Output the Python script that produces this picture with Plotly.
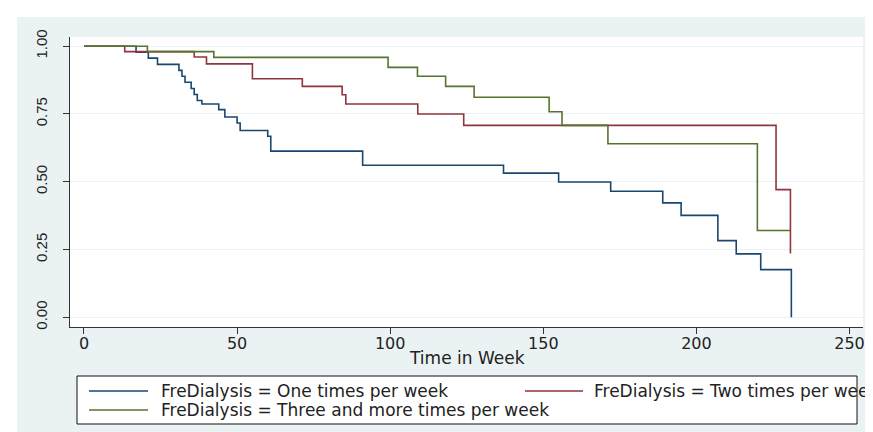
import plotly.graph_objects as go

# ---- data ----
blue_t = [0, 17, 21, 24, 31, 32, 33, 35, 36, 37, 38.5, 44, 46, 50, 51, 60, 61,
          91, 137, 155, 172, 189, 195, 207, 213, 221, 231]
blue_s = [1, .978, .956, .933, .911, .889, .867, .844, .822, .800, .787, .766, .739,
          .717, .689, .668, .613, .561, .532, .499, .465, .422, .376, .283, .234, .176, 0]

red_t = [0, 13.3, 36, 40, 55, 71.3, 84.3, 85.5, 109, 124, 226, 230.7]
red_s = [1, .98, .96, .935, .88, .852, .821, .787, .75, .708, .471, .235]

green_t = [0, 20.7, 42.4, 99.3, 108.9, 118.1, 127.4, 151.9, 156.1, 171.1, 219.9, 230.7]
green_s = [1, .98, .959, .922, .889, .852, .812, .758, .708, .64, .32, .32]

series_names = ["FreDialysis = One times per week",
                "FreDialysis = Two times per week",
                "FreDialysis = Three and more times per week"]
series_colors = ["#1a476f", "#90353b", "#55752f"]

x_ticks = [0, 50, 100, 150, 200, 250]
y_ticks = [0, 0.25, 0.5, 0.75, 1.0]
y_ticktext = ["0.00", "0.25", "0.50", "0.75", "1.00"]
x_title = "Time in Week"

# ---- layout geometry ----
W, H = 873, 432
L, R, T, B = 62, 18, 29, 113
PW = W - L - R
PH = H - T - B


def fx(p):
    return (p - L) / PW


def fy(p):
    return (H - B - p) / PH


fig = go.Figure()
for t, s, name, col in zip([blue_t, red_t, green_t], [blue_s, red_s, green_s],
                           series_names, series_colors):
    fig.add_trace(go.Scatter(x=t, y=s, mode="lines", name=name,
                             line=dict(color=col, width=1.6, shape="hv"),
                             showlegend=False))

BG = "#eaf2f3"
shapes = [
    dict(type="rect", xref="paper", yref="paper", x0=fx(0), x1=fx(W), y0=fy(0), y1=fy(9),
         fillcolor="white", line=dict(width=0), layer="below"),
    dict(type="rect", xref="paper", yref="paper", x0=fx(0), x1=fx(9), y0=fy(0), y1=fy(H),
         fillcolor="white", line=dict(width=0), layer="below"),
    dict(type="rect", xref="paper", yref="paper", x0=fx(69), x1=fx(849), y0=fy(416), y1=fy(368),
         fillcolor="white", line=dict(color="#111111", width=1)),
]
legend_items = [(81, 140, 151, 383), (517, 575, 584, 383), (81, 140, 151, 402)]
annotations = []
for (lx0, lx1, tx, ly), name, col in zip(legend_items, series_names, series_colors):
    shapes.append(dict(type="line", xref="paper", yref="paper", x0=fx(lx0), x1=fx(lx1),
                       y0=fy(ly), y1=fy(ly), line=dict(color=col, width=1.6)))
    annotations.append(dict(x=fx(tx), y=fy(ly), xref="paper", yref="paper", text=name,
                            showarrow=False, xanchor="left", yanchor="middle",
                            font=dict(family="DejaVu Sans", size=17, color="#222222")))
annotations.append(dict(x=fx(459), y=fy(350), xref="paper", yref="paper", text=x_title,
                        showarrow=False, xanchor="center", yanchor="middle",
                        font=dict(family="DejaVu Sans", size=17, color="#222222")))

fig.update_layout(
    width=W, height=H,
    margin=dict(l=L, r=R, t=T, b=B, pad=0),
    paper_bgcolor=BG, plot_bgcolor="white",
    shapes=shapes, annotations=annotations,
    showlegend=False,
    xaxis=dict(range=[-4.57, 254.4], tickmode="array", tickvals=x_ticks,
               ticks="outside", ticklen=6, tickcolor="#333333", tickwidth=1,
               showline=True, linecolor="#333333", linewidth=1,
               showgrid=False, zeroline=False, ticklabelstandoff=-4,
               tickfont=dict(family="DejaVu Sans", size=16, color="#222222")),
    yaxis=dict(range=[-0.0358, 1.034], tickmode="array", tickvals=y_ticks,
               ticktext=y_ticktext, tickangle=-90,
               ticks="outside", ticklen=6, tickcolor="#333333", tickwidth=1,
               showline=True, linecolor="#333333", linewidth=1,
               showgrid=True, gridcolor="#eaf2f3", gridwidth=1, zeroline=False,
               ticklabelstandoff=10,
               tickfont=dict(family="Liberation Sans", size=15, color="#222222")),
)

fig.write_html("out.html")
